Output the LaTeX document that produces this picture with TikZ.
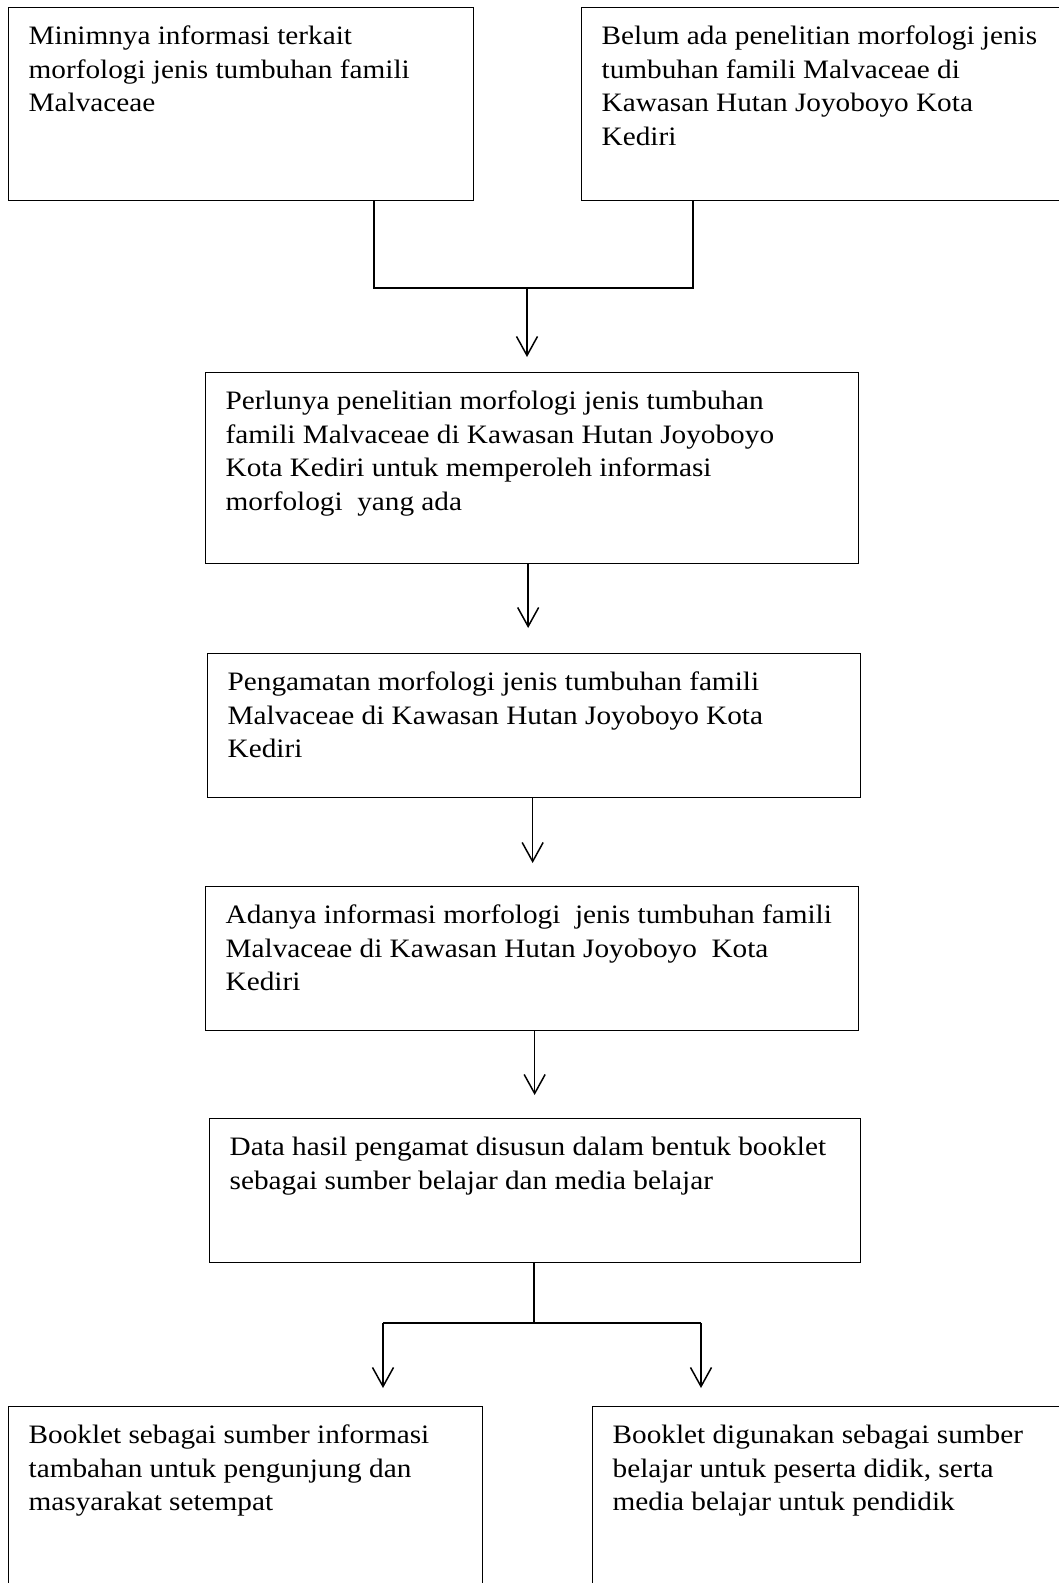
\documentclass[tikz,border=0pt]{standalone}
\usepackage{fontspec}
\setmainfont{Liberation Serif}[FakeStretch=1.1]
\usetikzlibrary{arrows.meta, positioning}
\tikzstyle{kotak} = [draw, rectangle, line width=1.3pt, inner xsep=20pt, inner ysep=0pt, anchor=north west, font=\fontsize{26.6}{33.5}\selectfont]
\tikzstyle{garis} = [line width=1.5pt]
\tikzstyle{panah} = [line width=1.5pt, -{Straight Barb[length=19pt, width=21pt, line width=1.5pt]}]
\newcommand{\isikotak}[3]{\begin{minipage}[t][#1][t]{#2}\raggedright\rule{0pt}{37pt}#3\end{minipage}}

\begin{document}
\begin{tikzpicture}[x=1pt, y=-1pt]
		\useasboundingbox (0,0) rectangle (1059,1583);
		% kotak atas
		\node [kotak] (masalahA) at (8,7) {\isikotak{193pt}{425pt}{Minimnya informasi terkait\\ morfologi jenis tumbuhan famili\\ Malvaceae}};
		\node [kotak] (masalahB) at (581,7) {\isikotak{193pt}{459pt}{Belum ada penelitian morfologi jenis\\ tumbuhan famili Malvaceae di\\ Kawasan Hutan Joyoboyo Kota\\ Kediri}};
		% alur tengah
		\node [kotak] (perlu) at (205,372) {\isikotak{191pt}{613pt}{Perlunya penelitian morfologi jenis tumbuhan\\ famili Malvaceae di Kawasan Hutan Joyoboyo\\ Kota Kediri untuk memperoleh informasi\\ morfologi\ \ yang ada}};
		\node [kotak] (amati) at (207,653) {\isikotak{144pt}{613pt}{Pengamatan morfologi jenis tumbuhan famili\\ Malvaceae di Kawasan Hutan Joyoboyo Kota\\ Kediri}};
		\node [kotak] (info) at (205,886) {\isikotak{144pt}{613pt}{Adanya informasi morfologi\ \ jenis tumbuhan famili\\ Malvaceae di Kawasan Hutan Joyoboyo\ \ Kota\\ Kediri}};
		\node [kotak] (data) at (209,1118) {\isikotak{144pt}{611pt}{Data hasil pengamat disusun dalam bentuk booklet\\ sebagai sumber belajar dan media belajar}};
		% kotak bawah
		\node [kotak] (hasilA) at (8,1406) {\isikotak{200pt}{434pt}{Booklet sebagai sumber informasi\\ tambahan untuk pengunjung dan\\ masyarakat setempat}};
		\node [kotak] (hasilB) at (592,1406) {\isikotak{200pt}{450pt}{Booklet digunakan sebagai sumber\\ belajar untuk peserta didik, serta\\ media belajar untuk pendidik}};

		% penghubung
		\coordinate (kiriA) at (374,288);
		\coordinate (kananA) at (693,288);
		\coordinate (tengahA) at (527,288);
		\draw [garis] (masalahA.south -| kiriA) -- (kiriA) -- (kananA) -- (masalahB.south -| kananA);
		\draw [panah] (tengahA) -- ([yshift=15pt]perlu.north -| tengahA);
		\draw [panah] ([xshift=-4pt]perlu.south) -- ([xshift=-6pt, yshift=25pt]amati.north);
		\draw [panah] ([xshift=-1.5pt]amati.south) -- ([xshift=0.5pt, yshift=23pt]info.north);
		\draw [panah] ([xshift=2.5pt]info.south) -- ([xshift=-0.5pt, yshift=23pt]data.north);
		\coordinate (cabang) at (534,1323);
		\coordinate (kiriB) at (383,1323);
		\coordinate (kananB) at (701,1323);
		\draw [garis] (data.south -| cabang) -- (cabang);
		\draw [garis] (kiriB) -- (kananB);
		\draw [panah] (kiriB) -- ([yshift=18pt]hasilA.north -| kiriB);
		\draw [panah] (kananB) -- ([yshift=18pt]hasilB.north -| kananB);
	\end{tikzpicture}
\end{document}
